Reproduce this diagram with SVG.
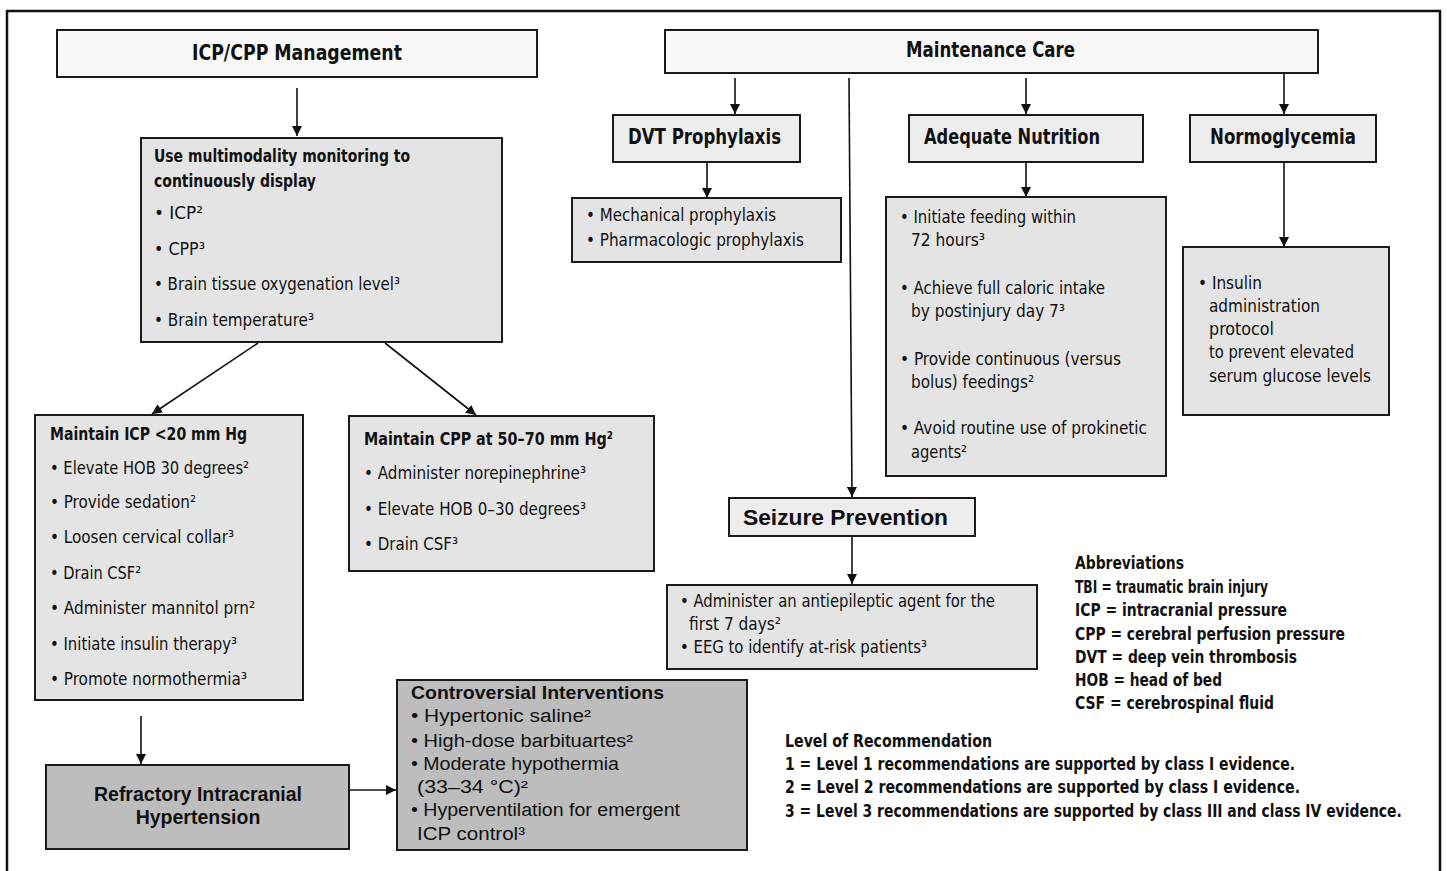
<svg xmlns="http://www.w3.org/2000/svg" width="1447" height="871" viewBox="0 0 1447 871">
<defs>
<marker id="ah" viewBox="0 0 10 10" refX="10" refY="5" markerWidth="10" markerHeight="10" markerUnits="userSpaceOnUse" orient="auto">
<path d="M0,0 L10,5 L0,10 z" fill="#111"/>
</marker>
<style>
.box{stroke:#1a1a1a;stroke-width:2;}
.w{fill:#f8f8f8;}
.m{fill:#ededed;}
.l{fill:#e4e4e4;}
.d{fill:#bdbdbd;}
.n{font-family:"DejaVu Sans Condensed","Liberation Sans",sans-serif;font-stretch:condensed;fill:#111;}
.a{font-family:"Liberation Sans",Arial,sans-serif;fill:#111;}
.b{font-weight:bold;}
.c{text-anchor:middle;}
.t{font-size:17px;}
.h{font-size:21px;}
.e{font-size:18px;}
.ln{stroke:#111;stroke-width:1.6;fill:none;}
</style>
</defs>
<rect x="0" y="0" width="1447" height="871" fill="#fff"/>
<path d="M7,875 V11 H1440 V875" fill="none" stroke="#111" stroke-width="2.5"/>

<g id="connectors">
<line class="ln" x1="297" y1="88" x2="297" y2="136" marker-end="url(#ah)"/>
<line class="ln" x1="258" y1="343" x2="152" y2="414" marker-end="url(#ah)"/>
<line class="ln" x1="385" y1="343" x2="476" y2="415" marker-end="url(#ah)"/>
<line class="ln" x1="141" y1="716" x2="141" y2="764" marker-end="url(#ah)"/>
<line class="ln" x1="350" y1="790" x2="396" y2="790" marker-end="url(#ah)"/>
<line class="ln" x1="735" y1="78" x2="735" y2="114" marker-end="url(#ah)"/>
<line class="ln" x1="1026" y1="78" x2="1026" y2="114" marker-end="url(#ah)"/>
<line class="ln" x1="1284" y1="74" x2="1284" y2="114" marker-end="url(#ah)"/>
<line class="ln" x1="849" y1="78" x2="852" y2="497" marker-end="url(#ah)"/>
<line class="ln" x1="707" y1="162" x2="707" y2="198" marker-end="url(#ah)"/>
<line class="ln" x1="1026" y1="162" x2="1026" y2="197" marker-end="url(#ah)"/>
<line class="ln" x1="1284" y1="162" x2="1284" y2="247" marker-end="url(#ah)"/>
<line class="ln" x1="852" y1="537" x2="852" y2="584" marker-end="url(#ah)"/>
</g>

<g id="icp-cpp-management">
<rect class="box w" x="57" y="30" width="480" height="47"/>
<text class="n b h" x="192" y="60" textLength="210" lengthAdjust="spacingAndGlyphs">ICP/CPP  Management</text>
</g>

<g id="multimodality">
<rect class="box l" x="141" y="138" width="361" height="204"/>
<text class="n b e" x="154" y="162" textLength="256" lengthAdjust="spacingAndGlyphs">Use multimodality monitoring to</text>
<text class="n b e" x="154" y="187" textLength="162" lengthAdjust="spacingAndGlyphs">continuously display</text>
<text class="n t" x="154" y="219" textLength="49" lengthAdjust="spacingAndGlyphs">• ICP²</text>
<text class="n t" x="154" y="255" textLength="51" lengthAdjust="spacingAndGlyphs">• CPP³</text>
<text class="n t" x="154" y="290" textLength="246" lengthAdjust="spacingAndGlyphs">• Brain tissue oxygenation level³</text>
<text class="n t" x="154" y="326" textLength="160" lengthAdjust="spacingAndGlyphs">• Brain temperature³</text>
</g>

<g id="maintain-icp">
<rect class="box l" x="35" y="415" width="268" height="285"/>
<text class="n b e" x="50" y="440" textLength="197" lengthAdjust="spacingAndGlyphs">Maintain ICP &lt;20 mm Hg</text>
<text class="n t" x="50" y="474" textLength="199" lengthAdjust="spacingAndGlyphs">• Elevate HOB 30 degrees²</text>
<text class="n t" x="50" y="508" textLength="146" lengthAdjust="spacingAndGlyphs">• Provide sedation²</text>
<text class="n t" x="50" y="543" textLength="184" lengthAdjust="spacingAndGlyphs">• Loosen cervical collar³</text>
<text class="n t" x="50" y="579" textLength="91" lengthAdjust="spacingAndGlyphs">• Drain CSF²</text>
<text class="n t" x="50" y="614" textLength="205" lengthAdjust="spacingAndGlyphs">• Administer mannitol prn²</text>
<text class="n t" x="50" y="650" textLength="187" lengthAdjust="spacingAndGlyphs">• Initiate insulin therapy³</text>
<text class="n t" x="50" y="685" textLength="197" lengthAdjust="spacingAndGlyphs">• Promote normothermia³</text>
</g>

<g id="maintain-cpp">
<rect class="box l" x="349" y="416" width="305" height="155"/>
<text class="n b e" x="364" y="445" textLength="249" lengthAdjust="spacingAndGlyphs">Maintain CPP at 50–70 mm Hg²</text>
<text class="n t" x="364" y="479" textLength="222" lengthAdjust="spacingAndGlyphs">• Administer norepinephrine³</text>
<text class="n t" x="364" y="515" textLength="222" lengthAdjust="spacingAndGlyphs">• Elevate HOB 0–30 degrees³</text>
<text class="n t" x="364" y="550" textLength="94" lengthAdjust="spacingAndGlyphs">• Drain CSF³</text>
</g>

<g id="refractory">
<rect class="box d" x="46" y="765" width="303" height="84"/>
<text class="a b c" font-size="19.5" x="198" y="801">Refractory Intracranial</text>
<text class="a b c" font-size="19.5" x="198" y="824">Hypertension</text>
</g>

<g id="controversial">
<rect class="box d" x="397" y="680" width="350" height="170"/>
<text class="a b" font-size="19" x="411" y="699" textLength="253" lengthAdjust="spacingAndGlyphs">Controversial Interventions</text>
<text class="a e" x="411" y="722" textLength="180" lengthAdjust="spacingAndGlyphs">• Hypertonic saline²</text>
<text class="a e" x="411" y="747" textLength="222" lengthAdjust="spacingAndGlyphs">• High-dose barbituartes²</text>
<text class="a e" x="411" y="770" textLength="208" lengthAdjust="spacingAndGlyphs">• Moderate hypothermia</text>
<text class="a e" x="417" y="793" textLength="111" lengthAdjust="spacingAndGlyphs">(33–34 °C)²</text>
<text class="a e" x="411" y="816" textLength="269" lengthAdjust="spacingAndGlyphs">• Hyperventilation for emergent</text>
<text class="a e" x="417" y="840" textLength="108" lengthAdjust="spacingAndGlyphs">ICP control³</text>
</g>

<g id="maintenance-care">
<rect class="box w" x="665" y="30" width="653" height="43"/>
<text class="n b h" x="906" y="57" textLength="169" lengthAdjust="spacingAndGlyphs">Maintenance Care</text>
</g>

<g id="dvt">
<rect class="box m" x="613" y="115" width="187" height="47"/>
<text class="n b h" x="628" y="144" textLength="153" lengthAdjust="spacingAndGlyphs">DVT Prophylaxis</text>
</g>

<g id="nutrition">
<rect class="box m" x="909" y="115" width="234" height="47"/>
<text class="n b h" x="924" y="144" textLength="176" lengthAdjust="spacingAndGlyphs">Adequate Nutrition</text>
</g>

<g id="normoglycemia">
<rect class="box m" x="1190" y="115" width="186" height="47"/>
<text class="n b h" x="1210" y="144" textLength="146" lengthAdjust="spacingAndGlyphs">Normoglycemia</text>
</g>

<g id="dvt-list">
<rect class="box l" x="572" y="198" width="269" height="64"/>
<text class="n t" x="586" y="221" textLength="190" lengthAdjust="spacingAndGlyphs">• Mechanical prophylaxis</text>
<text class="n t" x="586" y="246" textLength="218" lengthAdjust="spacingAndGlyphs">• Pharmacologic prophylaxis</text>
</g>

<g id="nutrition-list">
<rect class="box l" x="886" y="197" width="280" height="279"/>
<text class="n t" x="900" y="223" textLength="176" lengthAdjust="spacingAndGlyphs">• Initiate feeding within</text>
<text class="n t" x="911" y="246" textLength="74" lengthAdjust="spacingAndGlyphs">72 hours³</text>
<text class="n t" x="900" y="294" textLength="205" lengthAdjust="spacingAndGlyphs">• Achieve full caloric intake</text>
<text class="n t" x="911" y="317" textLength="154" lengthAdjust="spacingAndGlyphs">by postinjury day 7³</text>
<text class="n t" x="900" y="365" textLength="221" lengthAdjust="spacingAndGlyphs">• Provide continuous (versus</text>
<text class="n t" x="911" y="388" textLength="123" lengthAdjust="spacingAndGlyphs">bolus) feedings²</text>
<text class="n t" x="900" y="434" textLength="247" lengthAdjust="spacingAndGlyphs">• Avoid routine use of prokinetic</text>
<text class="n t" x="911" y="458" textLength="56" lengthAdjust="spacingAndGlyphs">agents²</text>
</g>

<g id="normoglycemia-list">
<rect class="box l" x="1183" y="247" width="206" height="168"/>
<text class="n t" x="1198" y="289" textLength="64" lengthAdjust="spacingAndGlyphs">• Insulin</text>
<text class="n t" x="1209" y="312" textLength="111" lengthAdjust="spacingAndGlyphs">administration</text>
<text class="n t" x="1209" y="335" textLength="65" lengthAdjust="spacingAndGlyphs">protocol</text>
<text class="n t" x="1209" y="358" textLength="145" lengthAdjust="spacingAndGlyphs">to prevent elevated</text>
<text class="n t" x="1209" y="382" textLength="162" lengthAdjust="spacingAndGlyphs">serum glucose levels</text>
</g>

<g id="seizure-prevention">
<rect class="box m" x="729" y="498" width="246" height="38"/>
<text class="a b" font-size="22" x="743" y="525" textLength="205" lengthAdjust="spacingAndGlyphs">Seizure Prevention</text>
</g>

<g id="seizure-list">
<rect class="box l" x="667" y="585" width="370" height="84"/>
<text class="n t" x="680" y="607" textLength="315" lengthAdjust="spacingAndGlyphs">• Administer an antiepileptic agent for the</text>
<text class="n t" x="689" y="630" textLength="92" lengthAdjust="spacingAndGlyphs">first 7 days²</text>
<text class="n t" x="680" y="653" textLength="247" lengthAdjust="spacingAndGlyphs">• EEG to identify at-risk patients³</text>
</g>

<g id="abbreviations">
<text class="n b e" x="1075" y="569" textLength="109" lengthAdjust="spacingAndGlyphs">Abbreviations</text>
<text class="n b e" x="1075" y="593" textLength="193" lengthAdjust="spacingAndGlyphs">TBI = traumatic brain injury</text>
<text class="n b e" x="1075" y="616" textLength="212" lengthAdjust="spacingAndGlyphs">ICP = intracranial pressure</text>
<text class="n b e" x="1075" y="640" textLength="270" lengthAdjust="spacingAndGlyphs">CPP = cerebral perfusion pressure</text>
<text class="n b e" x="1075" y="663" textLength="222" lengthAdjust="spacingAndGlyphs">DVT = deep vein thrombosis</text>
<text class="n b e" x="1075" y="686" textLength="147" lengthAdjust="spacingAndGlyphs">HOB = head of bed</text>
<text class="n b e" x="1075" y="709" textLength="199" lengthAdjust="spacingAndGlyphs">CSF = cerebrospinal fluid</text>
</g>

<g id="level-of-recommendation">
<text class="n b e" x="785" y="747" textLength="207" lengthAdjust="spacingAndGlyphs">Level of Recommendation</text>
<text class="n b e" x="785" y="770" textLength="510" lengthAdjust="spacingAndGlyphs">1 = Level 1 recommendations are supported by class I evidence.</text>
<text class="n b e" x="785" y="793" textLength="515" lengthAdjust="spacingAndGlyphs">2 = Level 2 recommendations are supported by class  I evidence.</text>
<text class="n b e" transform="translate(785,817) scale(0.8,1)" x="0" y="0" textLength="771" lengthAdjust="spacingAndGlyphs">3 = Level 3 recommendations are supported by class III and class IV evidence.</text>
</g>
</svg>
